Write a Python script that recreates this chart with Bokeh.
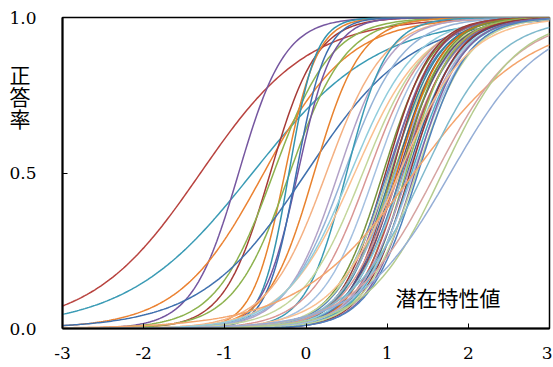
import numpy as np
from bokeh.plotting import figure
from bokeh.models import Range1d, FixedTicker, Label, ColumnDataSource
from bokeh.embed import file_html
from bokeh.resources import INLINE

# Item parameters: difficulty (theta at P=0.5) and slope (logit units per theta)
difficulty = [
    -1.30, -0.66, -0.83, -0.52, -0.44, -0.40, -0.26, -0.20, -0.21, -0.10, 0.00, -0.12, 0.10,
    0.25, 0.40, 0.47, 0.50, 0.60, 0.70, 0.77, 0.85, 0.55,
    0.95, 0.98, 1.00, 1.02, 1.03, 1.05, 1.06, 1.08, 1.10, 1.10, 1.12, 1.14, 1.15, 1.17,
    1.18, 1.20, 1.21, 1.23, 1.25, 1.26, 1.28, 1.30, 1.32, 1.34, 1.36, 1.38, 1.15,
    1.33, 1.45, 1.60, 1.68, 1.78,
]
slope = [
    1.5, 1.3, 3.5, 1.9, 3.5, 2.8, 5.0, 2.9, 6.0, 4.7, 1.55, 5.5, 3.5,
    2.8, 3.1, 2.8, 4.0, 2.35, 2.6, 2.8, 3.0, 2.5,
    3.3, 3.6, 3.2, 3.5, 3.0, 3.4, 3.8, 3.1, 3.5, 3.0, 3.6, 3.3, 3.0, 3.7,
    3.2, 3.4, 3.0, 3.6, 3.3, 3.1, 3.5, 3.2, 3.0, 3.4, 3.1, 3.3, 2.4,
    1.4, 2.2, 2.0, 2.2, 1.8,
]
palette = [
    "#B8433F", "#3A9BB5", "#7657A0", "#EB8232", "#A63A37", "#8DB24E", "#E8822E", "#8DB24E",
    "#3594AE", "#7455A0", "#3F70AE", "#3D6FAE", "#E8822E",
    "#F4B183", "#B3A2C7", "#95B3D7", "#3A9BB5", "#FAC090", "#C3D69B", "#D99694", "#A5C0E0", "#92CDDC",
    "#77933C", "#953735", "#4F81BD", "#8064A2", "#C3D69B", "#31859C", "#A0413E", "#9BBB59",
    "#376092", "#95B3D7", "#E46C0A", "#604A7B", "#D99694", "#77933C", "#4F81BD", "#C0504D",
    "#92CDDC", "#9BBB59", "#376092", "#B3A2C7", "#953735", "#4BACC6", "#A5C0E0", "#8064A2",
    "#C3D69B", "#4F81BD", "#FAC090",
    "#F4A46C", "#7FB9CC", "#D6A3A1", "#B5CC8E", "#95AED6",
]
x_ticks = [-3, -2, -1, 0, 1, 2, 3]
x_tick_labels = ["-3", "-2", "-1", "0", "1", "2", "3"]
y_ticks = [0.0, 0.5, 1.0]
y_tick_labels = ["0.0", "0.5", "1.0"]
y_title = ["正", "答", "率"]
x_title = "潜在特性値"

theta = np.linspace(-3, 3, 241)
xs, ys = [], []
for b, k in zip(difficulty, slope):
    xs.append(theta)
    ys.append(1.0 / (1.0 + np.exp(-k * (theta - b))))
src = ColumnDataSource(dict(xs=xs, ys=ys, color=palette[:len(xs)]))

p = figure(width=552, height=362, output_backend="svg", toolbar_location=None,
           x_range=Range1d(-3, 3), y_range=Range1d(0, 1),
           min_border_left=62, min_border_right=3, min_border_top=17, min_border_bottom=34)
p.multi_line(xs="xs", ys="ys", line_color="color", line_width=1.5, source=src)

p.xgrid.visible = False
p.ygrid.visible = False
p.outline_line_color = "black"
p.outline_line_width = 1.5
p.outline_line_alpha = 1.0

for ax in (p.xaxis[0], p.yaxis[0]):
    ax.axis_line_color = "black"
    ax.axis_line_width = 2
    ax.major_tick_in = 5
    ax.major_tick_out = 0
    ax.major_tick_line_color = "black"
    ax.major_tick_line_width = 1
    ax.minor_tick_line_color = None
    ax.major_label_text_font = "DejaVu Serif"
    ax.major_label_text_font_size = "17px"
    ax.major_label_text_color = "black"

p.xaxis.ticker = FixedTicker(ticks=x_ticks)
p.xaxis.major_label_overrides = {t: l for t, l in zip(x_ticks, x_tick_labels)}
p.xaxis.major_label_standoff = 18
p.yaxis.ticker = FixedTicker(ticks=y_ticks)
p.yaxis.major_label_overrides = {t: l for t, l in zip(y_ticks, y_tick_labels)}
p.yaxis.major_label_standoff = 26

cjk = "Noto Sans CJK JP"
# stacked vertical axis title, shifted up with padding lines below it
yax = p.yaxis[0]
yax.axis_label = "\n".join(y_title + ["\u3000"] * 7)
yax.axis_label_orientation = "horizontal"
yax.axis_label_text_font = cjk
yax.axis_label_text_font_size = "21px"
yax.axis_label_text_font_style = "normal"
yax.axis_label_text_line_height = 0.73
yax.axis_label_text_color = "black"
yax.axis_label_standoff = -24

p.add_layout(Label(x=1.75, y=0.10, text=x_title, text_font=cjk, text_font_size="21px",
                   text_align="center", text_baseline="middle", text_color="black"))

open("out.html", "w").write(file_html(p, INLINE))
